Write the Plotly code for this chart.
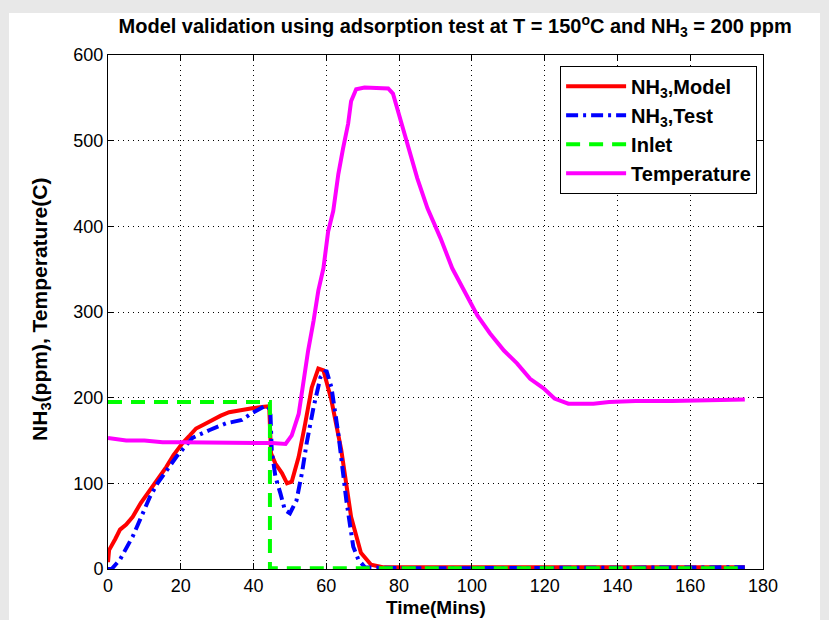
import plotly.graph_objects as go

# ---------------- data ----------------
t_model = [0, 0.3, 2, 3.3, 5, 6.8, 9, 11.5, 14, 16, 18, 20.5, 22.5, 24.2, 26.5, 28.6, 31,
           33.3, 35.5, 37.8, 40, 42.3, 44.3, 44.8, 46, 47.8, 49.2, 50.5, 52.4, 54.2, 56,
           57.8, 59.2, 61.4, 64.1, 66.8, 69.5, 72.3, 75.5, 90, 110, 130, 150, 165, 175]
nh3_model = [8, 22, 35, 46, 52, 61, 77, 92, 107, 119, 133, 147, 156, 164, 169, 174, 179,
             183, 185, 187, 188, 189, 190, 135, 123, 112, 100, 102, 131, 170, 212,
             234, 232, 197, 139, 61, 19, 5, 2, 2, 2, 2, 2, 1, 2]

t_test = [0, 1, 3.3, 6.8, 11.5, 13.6, 18.8, 23.2, 27.8, 32.4, 36.8, 39.6, 43.4, 44.6,
          45, 46, 47.4, 48.6, 50, 51.8, 53.3, 54.6, 56.5, 58.4, 60, 61.4, 63.3, 65.5,
          67.4, 68.8, 70.6, 80, 100, 120, 140, 160, 175]
nh3_test = [0, 0, 11, 38, 84, 100, 131, 153, 162, 170, 174, 182, 191, 186,
            138, 108, 88, 69, 65, 80, 112, 147, 189, 224, 232, 212, 158, 80,
            26, 11, 2, 1, 1, 1, 2, 2, 2]

t_inlet = [0, 44.5, 44.5, 175]
nh3_inlet = [195, 195, 1, 1]

t_temp = [0, 2, 5, 10, 15, 20, 30, 40, 45, 48.8, 50.5, 52.4, 53.7, 55, 56.5, 57.8, 59.2,
          60.5, 61.9, 63.3, 64.6, 66, 66.8, 68.2, 70.5, 72.3, 77, 78.3, 79.6, 82.4, 85,
          87.8, 91.4, 94.6, 97.4, 101.5, 105, 108.8, 112.4, 116, 119.7, 122.7, 126.5,
          133.4, 137.7, 145, 155, 165, 170, 175]
temperature = [153, 152, 150, 150, 148, 148, 148, 147, 147, 146, 156, 181, 220, 255, 290,
               325, 351, 394, 418, 461, 491, 520, 546, 560, 562, 562, 561, 555, 535, 496,
               456, 421, 386, 351, 328, 296, 275, 255, 240, 222, 211, 199, 193, 193, 195,
               196, 196, 197, 198, 198]

x_ticks = [0, 20, 40, 60, 80, 100, 120, 140, 160, 180]
y_ticks = [0, 100, 200, 300, 400, 500, 600]

FONT = "Liberation Sans, Arial, sans-serif"

fig = go.Figure()
fig.add_trace(go.Scatter(x=t_model, y=nh3_model, mode="lines", name="<b>NH<sub>3</sub>,Model</b>",
                         line=dict(color="#ff0000", width=4)))
fig.add_trace(go.Scatter(x=t_test, y=nh3_test, mode="lines", name="<b>NH<sub>3</sub>,Test</b>",
                         line=dict(color="#0000ff", width=4, dash="12px,5px,3px,5px")))
fig.add_trace(go.Scatter(x=t_inlet, y=nh3_inlet, mode="lines", name="<b>Inlet</b>",
                         line=dict(color="#00ff00", width=4, dash="14px,9px")))
fig.add_trace(go.Scatter(x=t_temp, y=temperature, mode="lines", name="<b>Temperature</b>",
                         line=dict(color="#ff00ff", width=4)))

axis_common = dict(
    showline=True, linecolor="#000000", linewidth=1, mirror="ticks",
    ticks="inside", ticklen=6, tickcolor="#000000",
    showgrid=True, gridcolor="#000000", gridwidth=1, griddash="1px,4px",
    zeroline=False, tickfont=dict(family=FONT, size=18, color="#000000"),
)

fig.update_layout(
    width=829, height=620,
    margin=dict(l=108, r=66, t=55, b=51),
    paper_bgcolor="#e8e8e8", plot_bgcolor="#ffffff",
    font=dict(family=FONT, color="#000000"),
    title=dict(text="<b>Model validation using adsorption test at T = 150<sup>o</sup>C and NH<sub>3</sub> = 200 ppm</b>",
               x=0.549, xref="container", xanchor="center",
               y=0.958, yref="container", yanchor="middle",
               font=dict(family=FONT, size=20, color="#000000")),
    xaxis=dict(range=[0, 180], tickvals=x_ticks, **axis_common),
    yaxis=dict(range=[0, 600], tickvals=y_ticks, **axis_common),
    legend=dict(x=0.991, xanchor="right", y=0.979, yanchor="top",
                bgcolor="#ffffff", bordercolor="#000000", borderwidth=1,
                font=dict(family=FONT, size=20, color="#000000"),
                itemwidth=60, tracegroupgap=0),
    showlegend=True,
    shapes=[dict(type="rect", xref="paper", yref="paper", x0=-0.1511, x1=1.087,
                 y0=-0.2, y1=1.0817, fillcolor="#ffffff", line=dict(width=0), layer="below")],
    annotations=[
        dict(text="<b>Time(Mins)</b>", xref="paper", yref="paper", x=0.5, y=-0.074,
             xanchor="center", yanchor="middle", showarrow=False,
             font=dict(family=FONT, size=19, color="#000000")),
        dict(text="<b>NH<sub>3</sub>(ppm), Temperature(C)</b>", xref="paper", yref="paper",
             x=-0.1023, y=0.506, xanchor="center", yanchor="middle", textangle=-90, showarrow=False,
             font=dict(family=FONT, size=21, color="#000000")),
    ],
)

fig.write_html("out.html")
